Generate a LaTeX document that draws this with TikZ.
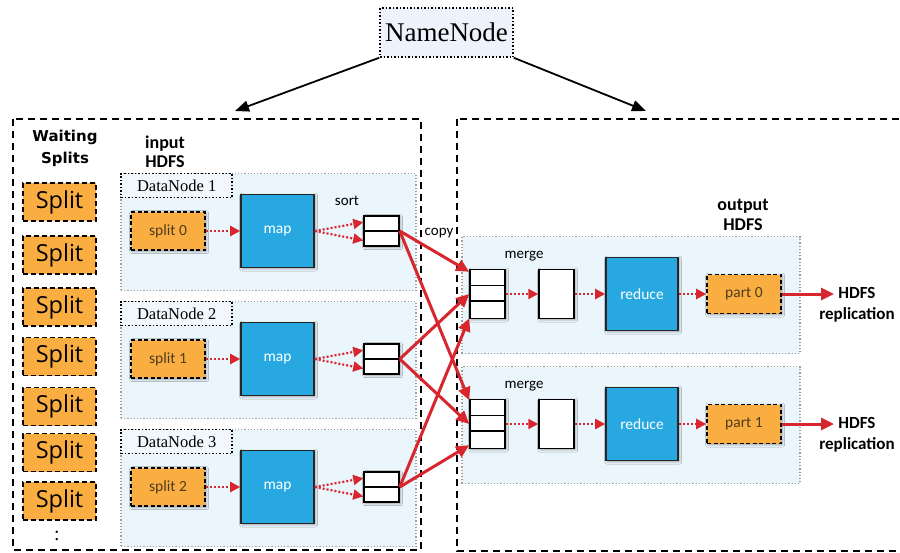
\documentclass[tikz,border=0pt]{standalone}
\usepackage{fontspec}
\setmainfont{Liberation Serif}
\newfontfamily\splfont{Open Sans}
\newfontfamily\cndfont{Carlito}
\newfontfamily\arbfont{DejaVu Sans}
\usetikzlibrary{arrows.meta,calc,shadows.blur}
\definecolor{hred}{RGB}{216,38,46}
\definecolor{sorange}{RGB}{250,174,66}
\definecolor{mapblue}{RGB}{40,168,224}
\definecolor{panelblue}{RGB}{234,245,252}
\definecolor{lblfill}{RGB}{242,247,252}
\definecolor{nnfill}{RGB}{238,242,250}
\definecolor{sbrown}{RGB}{80,60,30}
\tikzset{
  myshadow/.style={blur shadow={shadow xshift=1.2pt,shadow yshift=-1.2pt,shadow blur radius=2.5pt,shadow opacity=35}},
  outerbox/.style={draw=black,line width=2pt,dash pattern=on 7pt off 5pt},
  panel/.style={draw=gray!75,dotted,line width=1.2pt,fill=panelblue,minimum width=295pt,minimum height=117pt,inner sep=0pt},
  dnlabel/.style={draw=black,dotted,line width=1.5pt,fill=lblfill,minimum width=111pt,minimum height=24pt,inner sep=0pt,font=\fontsize{16.5}{18}\selectfont},
  nnbox/.style={draw=black,dotted,line width=1.5pt,fill=nnfill,minimum width=133pt,minimum height=49pt,inner sep=0pt,font=\fontsize{27}{30}\selectfont},
  wsplit/.style={fill=sorange,draw=black,dash pattern=on 5pt off 3pt,line width=1.6pt,minimum width=73pt,minimum height=38pt,inner sep=0pt,font=\splfont\fontsize{23.5}{26}\selectfont},
  inbox/.style={myshadow,fill=sorange,draw=black,dash pattern=on 4pt off 2.5pt,line width=1.6pt,minimum width=74pt,minimum height=38pt,inner sep=0pt,text=sbrown,font=\cndfont\fontsize{15.5}{18}\selectfont},
  mapbox/.style={myshadow,fill=mapblue,draw=black!85,line width=1.6pt,minimum width=73pt,minimum height=73pt,inner sep=0pt,text=white,font=\cndfont\fontsize{15.5}{18}\selectfont},
  bufbox/.style={myshadow,fill=white,draw=black,line width=1.5pt,minimum width=35pt,minimum height=30pt,inner sep=0pt},
  mbuf/.style={myshadow,fill=white,draw=black,line width=1.5pt,minimum width=35pt,minimum height=49pt,inner sep=0pt},
  smalllbl/.style={font=\cndfont\fontsize{15}{18}\selectfont,inner sep=0pt},
  boldlbl/.style={font=\cndfont\bfseries\fontsize{18}{19}\selectfont,align=center,inner sep=0pt},
  hdfslbl/.style={font=\cndfont\bfseries\fontsize{17}{21}\selectfont,align=center,inner sep=0pt},
  dotarr/.style={draw=hred,line width=2.2pt,dash pattern=on 2pt off 2pt,-{Triangle[length=10pt,width=10pt]}},
  redarr/.style={draw=hred,line width=3pt,-{Triangle[length=13pt,width=12pt]}},
  nnarr/.style={draw=black,line width=1.8pt,-{Triangle[length=14pt,width=11pt]}}
}
\begin{document}
\begin{tikzpicture}[x=1pt,y=-1pt]
\path[use as bounding box] (0,0) rectangle (900,552);
\clip (0,0) rectangle (900,552);

% NameNode
\node[nnbox] (nn) at (446.5,32.5) {NameNode};
\coordinate (lt) at (235,111);
\coordinate (rt) at (646,111);
\draw[nnarr] (nn.south west) -- (lt);
\draw[nnarr] (nn.south east) -- (rt);

% outer dashed boxes
\draw[outerbox] (13,119) rectangle (421,550);
\draw[outerbox] (457,119) rectangle (930,551);

% waiting splits
\node[font=\arbfont\bfseries\fontsize{15}{22}\selectfont,align=center,inner sep=0pt] (ws) at (65,148) {Waiting\\Splits};
\foreach \k/\y in {1/202,2/255,3/307,4/356.5,5/406.5,6/452.5,7/501}{
  \node[wsplit] (w\k) at (59.5,\y) {Split};
}
\node[font=\fontsize{20}{22}\selectfont,inner sep=0pt] (dots) at (57,536) {:};

% input HDFS
\node[boldlbl] (inh) at (165,152) {input\\HDFS};

% map side
\foreach \i/\c/\n in {1/231/0,2/359/1,3/487/2}{
  \node[panel] (p\i) at (268.5,\c+1) {};
  \node[dnlabel,anchor=north west] (l\i) at (p\i.north west) {DataNode \i};
  \node[inbox] (s\i) at (168,\c) {split \n};
  \node[mapbox] (m\i) at (277.5,\c) {map};
  \node[bufbox] (b\i) at (381.5,\c) {};
  \draw[line width=1.5pt] (b\i.west) -- (b\i.east);
  \draw[dotarr] (s\i) -- (m\i);
  \draw[dotarr] (m\i.east) -- ($(b\i.north west)!0.22!(b\i.south west)$);
  \draw[dotarr] (m\i.east) -- ($(b\i.north west)!0.8!(b\i.south west)$);
}
\node[smalllbl] (sort) at (347,201) {sort};

% output HDFS
\node[boldlbl,font=\cndfont\bfseries\fontsize{18}{20}\selectfont] (outh) at (743,215) {output\\HDFS};

% reduce side
\foreach \i/\r/\n in {1/294/0,2/424/1}{
  \node[panel,minimum width=338pt] (q\i) at (631,\r+1) {};
  \node[smalllbl] (mlbl\i) at (524,\r-38) {merge};
  \node[mbuf] (mb\i) at (487.5,\r) {};
  \draw[line width=1.5pt] ($(mb\i.north west)!0.33!(mb\i.south west)$) -- ($(mb\i.north east)!0.33!(mb\i.south east)$);
  \draw[line width=1.5pt] ($(mb\i.north west)!0.64!(mb\i.south west)$) -- ($(mb\i.north east)!0.64!(mb\i.south east)$);
  \node[mbuf] (mg\i) at (556.5,\r) {};
  \node[mapbox,minimum width=72pt] (rd\i) at (642,\r) {reduce};
  \node[inbox,minimum height=39pt] (pt\i) at (744,\r) {part \n};
  \node[hdfslbl] (h\i) at (857,\r+11) {HDFS\\replication};
  \coordinate (he\i) at (834,\r);
  \draw[dotarr] (mb\i) -- (mg\i);
  \draw[dotarr] (mg\i) -- (rd\i);
  \draw[dotarr] (rd\i) -- (pt\i);
  \draw[redarr] (pt\i) -- (he\i);
}

% copy arrows
\node[smalllbl] (copy) at (439,233) {copy};
\draw[redarr] (b1.east) -- ($(mb1.north west)!0.06!(mb1.south west)$);
\draw[redarr] (b1.east) -- ($(mb2.north west)!0.03!(mb2.south west)$);
\draw[redarr] (b2.east) -- (mb1.west);
\draw[redarr] (b2.east) -- (mb2.west);
\draw[redarr] (b3.east) -- ($(mb1.north west)!0.98!(mb1.south west)$);
\draw[redarr] (b3.east) -- ($(mb2.north west)!0.92!(mb2.south west)$);
\end{tikzpicture}
\end{document}
